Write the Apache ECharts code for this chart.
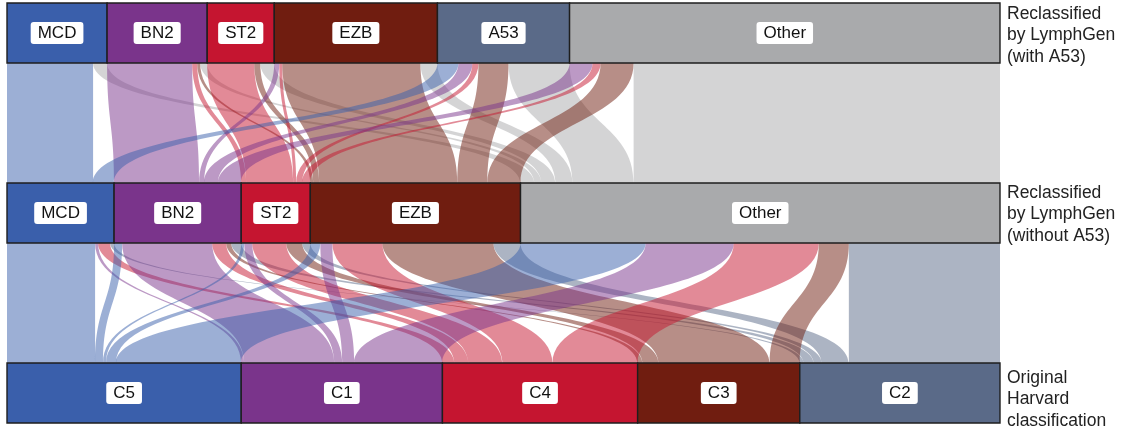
<!DOCTYPE html>
<html>
<head>
<meta charset="utf-8">
<script src="https://cdn.jsdelivr.net/npm/echarts@6/dist/echarts.min.js"></script>
<style>
  html, body { margin: 0; padding: 0; background: #fff; }
  #chart { width: 1128px; height: 429px; }
</style>
</head>
<body>
<div id="chart"></div>
<script>
// Subtype classes in each of the three rows (top to bottom)
const withA53Names = ['MCD', 'BN2', 'ST2', 'EZB', 'A53', 'Other'];
const withoutA53Names = ['MCD', 'BN2', 'ST2', 'EZB', 'Other'];
const harvardNames = ['C5', 'C1', 'C4', 'C3', 'C2'];

// Row captions on the right
const rowCaptions = [
  'Reclassified\nby LymphGen\n(with A53)',
  'Reclassified\nby LymphGen\n(without A53)',
  'Original\nHarvard\nclassification'
];

// Flows: rows = LymphGen with A53, columns = LymphGen without A53
const withToWithout = [
  [86, 0, 0, 0, 14],    // MCD
  [0, 85, 5, 3, 7],     // BN2
  [0, 0, 47, 6, 14],    // ST2
  [0, 5, 3, 138, 17],   // EZB
  [21, 14, 6, 30, 61],  // A53
  [0, 23, 8, 33, 366]   // Other
];

// Flows: rows = LymphGen without A53, columns = Harvard cluster
const withoutToHarvard = [
  [88, 3, 12, 0, 4],      // MCD
  [8, 90, 14, 5, 10],     // BN2
  [3, 8, 34, 16, 8],      // ST2
  [10, 12, 50, 111, 27],  // EZB
  [125, 88, 85, 30, 151]  // Other
];

// Class colours
const classColors = {
  MCD: '#3a5fab', BN2: '#7a348b', ST2: '#c51530', EZB: '#701d10',
  A53: '#5a6a88', Other: '#a9aaac',
  C5: '#3a5fab', C1: '#7a348b', C4: '#c51530', C3: '#701d10', C2: '#5a6a88'
};

const rows = [
  { key: 'with', names: withA53Names },
  { key: 'without', names: withoutA53Names },
  { key: 'harvard', names: harvardNames }
];

const nodes = [];
rows.forEach(function (row, depth) {
  row.names.forEach(function (n) {
    nodes.push({
      name: row.key + ':' + n,
      depth: depth,
      itemStyle: { color: classColors[n] }
    });
  });
});

const links = [];
function addLinks(matrix, srcRow, dstRow) {
  matrix.forEach(function (vals, i) {
    vals.forEach(function (v, j) {
      if (v > 0) {
        links.push({
          source: srcRow.key + ':' + srcRow.names[i],
          target: dstRow.key + ':' + dstRow.names[j],
          value: v
        });
      }
    });
  });
}
addLinks(withToWithout, rows[0], rows[1]);
addLinks(withoutToHarvard, rows[1], rows[2]);

const chart = echarts.init(document.getElementById('chart'), null, { renderer: 'canvas' });

const captionY = [36, 215, 400];

chart.setOption({
  backgroundColor: '#ffffff',
  animation: false,
  series: [{
    type: 'sankey',
    orient: 'vertical',
    left: 7,
    right: 128,
    top: 3,
    bottom: 6,
    nodeWidth: 60,
    nodeGap: 0,
    layoutIterations: 0,
    draggable: false,
    emphasis: { disabled: true },
    data: nodes,
    links: links,
    itemStyle: { borderColor: '#1e1e1e', borderWidth: 1.4 },
    lineStyle: { color: 'target', opacity: 0.5, curveness: 0.5 },
    label: {
      show: true,
      position: 'inside',
      formatter: function (p) { return p.name.split(':')[1]; },
      color: '#111',
      fontFamily: 'Liberation Sans, Arial, sans-serif',
      fontSize: 17,
      lineHeight: 17,
      backgroundColor: '#ffffff',
      borderRadius: 3,
      padding: [3, 7, 2, 7]
    }
  }],
  graphic: rowCaptions.map(function (t, i) {
    return {
      type: 'text',
      left: 1007,
      top: captionY[i] - 33,
      style: {
        text: t,
        fill: '#222',
        font: '17.5px "Liberation Sans", Arial, sans-serif',
        lineHeight: 21.5
      }
    };
  })
});
</script>
</body>
</html>
